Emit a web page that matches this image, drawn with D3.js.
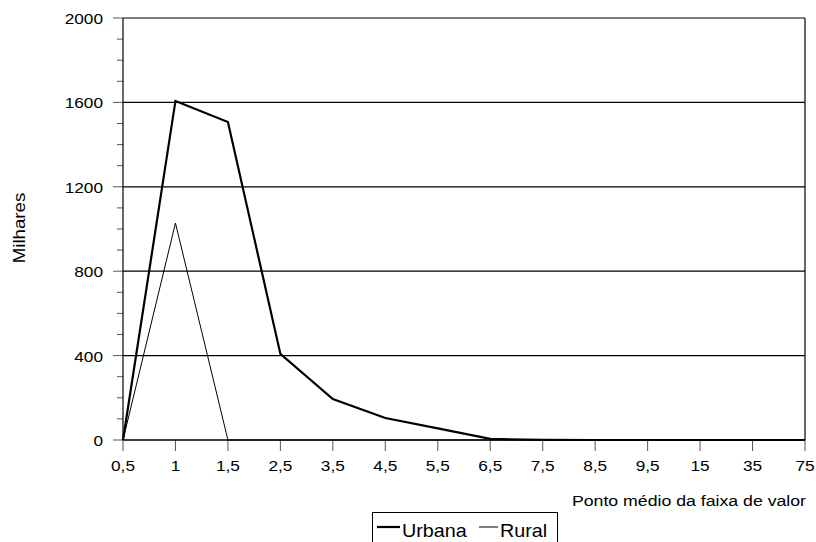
<!DOCTYPE html>
<html>
<head>
<meta charset="utf-8">
<script src="https://cdn.jsdelivr.net/npm/d3@7"></script>
<style>
  html, body { margin: 0; padding: 0; background: #fff; }
  svg { display: block; font-family: "Liberation Sans", Arial, Helvetica, sans-serif; }
</style>
</head>
<body>
<svg id="chart" width="816" height="542"></svg>
<script>
const categories = ["0,5", "1", "1,5", "2,5", "3,5", "4,5", "5,5", "6,5", "7,5", "8,5", "9,5", "15", "35", "75"];
const urbana = [0, 1607, 1507, 408, 194, 104, 55, 5, 1, 0, 0, 0, 0, 0];
const rural  = [0, 1028, 0, 0, 0, 0, 0, 0, 0, 0, 0, 0, 0, 0];
const yTicks = [0, 400, 800, 1200, 1600, 2000];
const yMinorTicks = d3.range(0, 2001, 100);
const seriesNames = ["Urbana", "Rural"];

(function () {
const svg = d3.select("#chart");
const mLeft = 123, mRight = 805, mTop = 18, mBottom = 440;
const SX = 1.12, FS = 15.4;

const x = d3.scalePoint().domain(categories).range([mLeft, mRight]).padding(0);
const y = d3.scaleLinear().domain([0, 2000]).range([mBottom, mTop]);

// gridlines
svg.append("g").selectAll("line").data(yTicks.filter(d => d > 0 && d < 2000)).join("line")
  .attr("x1", mLeft).attr("x2", mRight)
  .attr("y1", d => y(d)).attr("y2", d => y(d))
  .attr("stroke", "#000").attr("stroke-width", 1.2);

// frame: top and right
svg.append("line").attr("x1", mLeft).attr("x2", mRight).attr("y1", y(2000)).attr("y2", y(2000))
  .attr("stroke", "#000").attr("stroke-width", 1.2);
svg.append("line").attr("x1", mRight).attr("x2", mRight).attr("y1", y(2000)).attr("y2", mBottom)
  .attr("stroke", "#000").attr("stroke-width", 1.2);

// y minor ticks
svg.append("g").selectAll("line").data(yMinorTicks.filter(d => !yTicks.includes(d))).join("line")
  .attr("x1", mLeft - 6).attr("x2", mLeft)
  .attr("y1", d => y(d)).attr("y2", d => y(d))
  .attr("stroke", "#555").attr("stroke-width", 1);
// y major ticks
svg.append("g").selectAll("line").data(yTicks).join("line")
  .attr("x1", mLeft - 10).attr("x2", mLeft)
  .attr("y1", d => y(d)).attr("y2", d => y(d))
  .attr("stroke", "#555").attr("stroke-width", 1);
svg.append("g").selectAll("text").data(yTicks).join("text")
  .attr("transform", d => `translate(${mLeft - 20},${y(d) + 6}) scale(${SX},1)`)
  .attr("text-anchor", "end").attr("font-size", FS).text(d => d);

// left axis line
svg.append("line").attr("x1", mLeft).attr("x2", mLeft).attr("y1", mTop).attr("y2", mBottom)
  .attr("stroke", "#000").attr("stroke-width", 1.2);

// x ticks
svg.append("g").selectAll("line").data(categories).join("line")
  .attr("x1", d => x(d)).attr("x2", d => x(d))
  .attr("y1", mBottom).attr("y2", mBottom + 11)
  .attr("stroke", "#555").attr("stroke-width", 1);
svg.append("g").selectAll("text").data(categories).join("text")
  .attr("transform", d => `translate(${x(d)},471) scale(${SX},1)`)
  .attr("text-anchor", "middle").attr("font-size", FS).text(d => d);

// bottom axis line
svg.append("line").attr("x1", mLeft).attr("x2", mRight).attr("y1", mBottom).attr("y2", mBottom)
  .attr("stroke", "#000").attr("stroke-width", 1.5);

// lines
const line = d3.line().x((d, i) => x(categories[i])).y(d => y(d));
svg.append("path").datum(rural).attr("d", line)
  .attr("fill", "none").attr("stroke", "#000").attr("stroke-width", 1);
svg.append("path").datum(urbana).attr("d", line)
  .attr("fill", "none").attr("stroke", "#000").attr("stroke-width", 2.2).attr("stroke-linejoin", "miter");

// axis titles
svg.append("text").attr("transform", "translate(25,228) rotate(-90) scale(1.17,1)")
  .attr("text-anchor", "middle").attr("font-size", 16).text("Milhares");
svg.append("text").attr("transform", `translate(${mRight + 1},506) scale(1.15,1)`)
  .attr("text-anchor", "end").attr("font-size", FS).text("Ponto médio da faixa de valor");

// legend
const lg = svg.append("g");
lg.append("rect").attr("x", 372.5).attr("y", 512.5).attr("width", 185).attr("height", 40)
  .attr("fill", "none").attr("stroke", "#000").attr("stroke-width", 1);
const legendItems = [
  { name: seriesNames[0], x0: 377, x1: 400, tx: 402, w: 2.2 },
  { name: seriesNames[1], x0: 479, x1: 498, tx: 500, w: 1 }
];
legendItems.forEach(it => {
  lg.append("line").attr("x1", it.x0).attr("x2", it.x1).attr("y1", 527).attr("y2", 527)
    .attr("stroke", "#000").attr("stroke-width", it.w);
  lg.append("text").attr("transform", `translate(${it.tx},537) scale(1.04,1)`)
    .attr("font-size", 19).text(it.name);
});
})();
</script>
</body>
</html>
